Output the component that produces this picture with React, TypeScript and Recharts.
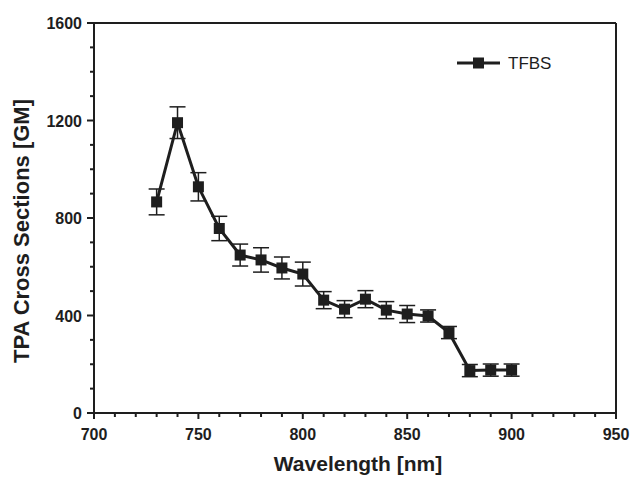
import React from "react";
import { LineChart, Line, XAxis, YAxis, ErrorBar, ReferenceLine } from "recharts";

const wavelengths = [730, 740, 750, 760, 770, 780, 790, 800, 810, 820, 830, 840, 850, 860, 870, 880, 890, 900];
const tpa = [866, 1191, 928, 757, 648, 628, 595, 570, 463, 426, 467, 422, 406, 398, 330, 174, 176, 176];
const errs = [53, 65, 58, 50, 45, 50, 45, 49, 35, 35, 35, 35, 35, 25, 25, 25, 25, 25];
const xTicks = Array.from({ length: 26 }, (_, i) => 700 + i * 10);
const yTicks = Array.from({ length: 17 }, (_, i) => i * 100);

const data = wavelengths.map((w, i) => ({ x: w, y: tpa[i], err: errs[i] }));

const INK = "#1e1e1e";
const FONT = "'Liberation Sans', Arial, sans-serif";

const XTick = (props: any) => {
  const { x, y, payload } = props;
  const v = payload.value;
  const major = v % 50 === 0;
  return (
    <g>
      <line x1={x} x2={x} y1={y} y2={y + (major ? 6 : 4)} stroke={INK} strokeWidth={2} />
      {major && (
        <text x={x} y={y + 27} textAnchor="middle" fontFamily={FONT} fontWeight="bold" fontSize={16} fill={INK}>
          {v}
        </text>
      )}
    </g>
  );
};

const YTick = (props: any) => {
  const { x, y, payload } = props;
  const v = payload.value;
  const major = v % 400 === 0;
  return (
    <g>
      <line x1={x} x2={x - (major ? 7 : 4)} y1={y} y2={y} stroke={INK} strokeWidth={2} />
      {major && (
        <text x={x - 12} y={y + 6} textAnchor="end" fontFamily={FONT} fontWeight="bold" fontSize={16} fill={INK}>
          {v}
        </text>
      )}
    </g>
  );
};

const Square = (props: any) => {
  const { cx, cy } = props;
  if (cx == null || cy == null) return null;
  return <rect x={cx - 5.5} y={cy - 5.5} width={11} height={11} fill={INK} />;
};

const XTitle = (props: any) => {
  const vb = props.viewBox;
  return (
    <text x={vb.x + vb.width / 2 + 3} y={471} textAnchor="middle" fontFamily={FONT} fontWeight="bold" fontSize={21} fill={INK}>
      Wavelength [nm]
    </text>
  );
};

const YTitle = (props: any) => {
  const vb = props.viewBox;
  const cy = vb.y + vb.height / 2 + 13;
  return (
    <text x={21} y={cy} transform={`rotate(-90 21 ${cy})`} textAnchor="middle" dominantBaseline="central" fontFamily={FONT} fontWeight="bold" fontSize={22} fill={INK}>
      TPA Cross Sections [GM]
    </text>
  );
};

export default function App() {
  return (
    <div style={{ position: "absolute", left: 0, top: 0, width: 634, height: 478, background: "#fff" }}>
      <LineChart width={634} height={478} data={data} margin={{ top: 23, right: 18, left: 0, bottom: 0 }}>
        <XAxis
          type="number"
          dataKey="x"
          domain={[700, 950]}
          ticks={xTicks}
          interval={0}
          tick={<XTick />}
          tickSize={0}
          tickMargin={0}
          tickLine={false}
          axisLine={{ stroke: INK, strokeWidth: 2 }}
          height={65}
          label={<XTitle />}
        />
        <YAxis
          type="number"
          domain={[0, 1600]}
          ticks={yTicks}
          interval={0}
          tick={<YTick />}
          tickSize={0}
          tickMargin={0}
          tickLine={false}
          axisLine={{ stroke: INK, strokeWidth: 2 }}
          width={94}
          label={<YTitle />}
        />
        <ReferenceLine y={1600} stroke={INK} strokeWidth={2} />
        <ReferenceLine x={950} stroke={INK} strokeWidth={2} />
        <Line
          dataKey="y"
          stroke={INK}
          strokeWidth={3}
          dot={<Square />}
          activeDot={false}
          isAnimationActive={false}
        >
          <ErrorBar dataKey="err" width={8} stroke={INK} strokeWidth={1.5} direction="y" />
        </Line>
      </LineChart>
      <svg style={{ position: "absolute", left: 455, top: 50 }} width={130} height={26}>
        <line x1={2} x2={45} y1={13} y2={13} stroke={INK} strokeWidth={3} />
        <rect x={18} y={7.5} width={11} height={11} fill={INK} />
        <text x={53} y={19} fontFamily={FONT} fontSize={17} fill={INK}>TFBS</text>
      </svg>
    </div>
  );
}
